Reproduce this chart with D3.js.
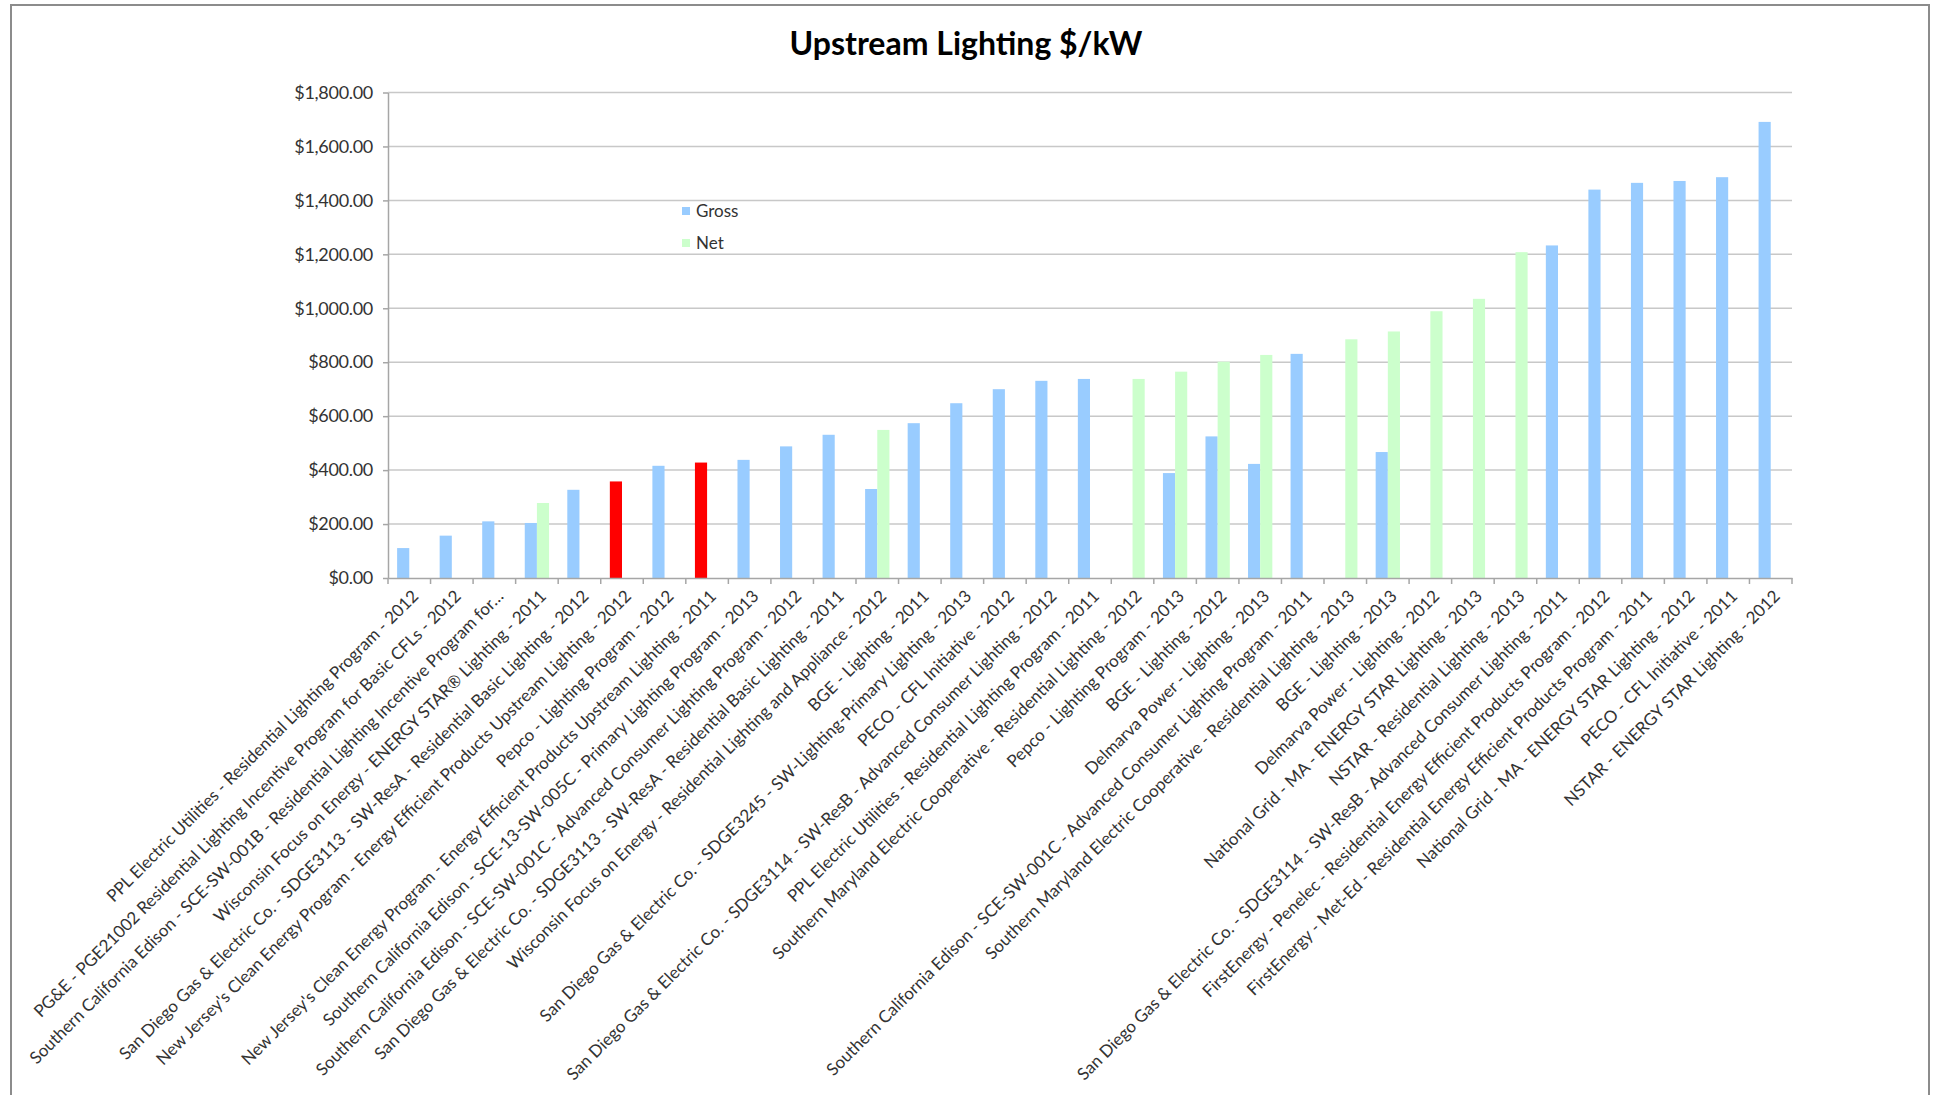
<!DOCTYPE html>
<html>
<head>
<meta charset="utf-8">
<script src="https://cdn.jsdelivr.net/npm/d3@7"></script>
<style>
  html, body { margin: 0; padding: 0; background: #fff; }
  svg { display: block; font-family: Lato, "Open Sans", "Liberation Sans", sans-serif; }
</style>
</head>
<body>
<svg id="chart" width="1935" height="1095"></svg>
<script>
const categories = [
  "PPL Electric Utilities - Residential Lighting Program - 2012",
  "PG&E - PGE21002 Residential Lighting Incentive Program for Basic CFLs - 2012",
  "Southern California Edison - SCE-SW-001B - Residential Lighting Incentive Program for…",
  "Wisconsin Focus on Energy - ENERGY STAR® Lighting - 2011",
  "San Diego Gas & Electric Co. - SDGE3113 - SW-ResA - Residential Basic Lighting - 2012",
  "New Jersey's Clean Energy Program - Energy Efficient Products Upstream Lighting - 2012",
  "Pepco - Lighting Program - 2012",
  "New Jersey's Clean Energy Program - Energy Efficient Products Upstream Lighting - 2011",
  "Southern California Edison - SCE-13-SW-005C - Primary Lighting Program - 2013",
  "Southern California Edison - SCE-SW-001C - Advanced Consumer Lighting Program - 2012",
  "San Diego Gas & Electric Co. - SDGE3113 - SW-ResA - Residential Basic Lighting - 2011",
  "Wisconsin Focus on Energy - Residential Lighting and Appliance - 2012",
  "BGE - Lighting - 2011",
  "San Diego Gas & Electric Co. - SDGE3245 - SW-Lighting-Primary Lighting - 2013",
  "PECO - CFL Initiative - 2012",
  "San Diego Gas & Electric Co. - SDGE3114 - SW-ResB - Advanced Consumer Lighting - 2012",
  "PPL Electric Utilities - Residential Lighting Program - 2011",
  "Southern Maryland Electric Cooperative - Residential Lighting - 2012",
  "Pepco - Lighting Program - 2013",
  "BGE - Lighting - 2012",
  "Delmarva Power - Lighting - 2013",
  "Southern California Edison - SCE-SW-001C - Advanced Consumer Lighting Program - 2011",
  "Southern Maryland Electric Cooperative - Residential Lighting - 2013",
  "BGE - Lighting - 2013",
  "Delmarva Power - Lighting - 2012",
  "National Grid - MA - ENERGY STAR Lighting - 2013",
  "NSTAR - Residential Lighting - 2013",
  "San Diego Gas & Electric Co. - SDGE3114 - SW-ResB - Advanced Consumer Lighting - 2011",
  "FirstEnergy - Penelec - Residential Energy Efficient Products Program - 2012",
  "FirstEnergy - Met-Ed - Residential Energy Efficient Products Program - 2011",
  "National Grid - MA - ENERGY STAR Lighting - 2012",
  "PECO - CFL Initiative - 2011",
  "NSTAR - ENERGY STAR Lighting - 2012"
];
const grossValues = [111, 157, 210, 204, 327, 358, 416, 428, 438, 488, 531, 330, 574, 648, 700, 731, 738,
  null, 389, 525, 423, 831, null, 467, null, null, null, 1233, 1440, 1465, 1472, 1486, 1691];
const netValues = [null, null, null, 278, null, null, null, null, null, null, null, 549, null, null, null, null, null,
  738, 765, 802, 827, null, 885, 914, 989, 1035, 1208, null, null, null, null, null, null];
const highlighted = [
  "New Jersey's Clean Energy Program - Energy Efficient Products Upstream Lighting - 2012",
  "New Jersey's Clean Energy Program - Energy Efficient Products Upstream Lighting - 2011"
];
const seriesNames = ["Gross", "Net"];
const seriesColors = ["#99ccff", "#ccffcc"];
const highlightColor = "#ff0000";
const yTicks = [0, 200, 400, 600, 800, 1000, 1200, 1400, 1600, 1800];
const title = "Upstream Lighting $/kW";

const svg = d3.select("#chart");
const plot = { left: 388, right: 1792, top: 92.5, bottom: 578 };

// chart border
svg.append("rect").attr("x", 11).attr("y", 5).attr("width", 1918).attr("height", 1100)
  .attr("fill", "#fff").attr("stroke", "#8c8c8c").attr("stroke-width", 2);

const x0 = d3.scaleBand().domain(categories).range([plot.left, plot.right])
  .paddingInner(1.5 / 3.5).paddingOuter(0.75 / 3.5);
const x1 = d3.scaleBand().domain(seriesNames).range([0, x0.bandwidth()]);
const y = d3.scaleLinear().domain([0, 1800]).range([plot.bottom, plot.top]);

// gridlines
svg.append("g").selectAll("line").data(yTicks.filter(d => d > 0)).join("line")
  .attr("x1", plot.left).attr("x2", plot.right)
  .attr("y1", d => y(d)).attr("y2", d => y(d))
  .attr("stroke", "#c8c8c8").attr("stroke-width", 1.5);

// bars
const rows = categories.map((c, i) => ({ cat: c, vals: [grossValues[i], netValues[i]] }));
const groups = svg.append("g").selectAll("g").data(rows).join("g")
  .attr("transform", d => `translate(${x0(d.cat)},0)`);
groups.selectAll("rect")
  .data(d => d.vals.map((v, k) => ({ cat: d.cat, s: seriesNames[k], k, v })).filter(e => e.v != null))
  .join("rect")
  .attr("x", e => x1(e.s))
  .attr("width", x1.bandwidth())
  .attr("y", e => y(e.v))
  .attr("height", e => y(0) - y(e.v))
  .attr("fill", e => (e.k === 0 && highlighted.includes(e.cat)) ? highlightColor : seriesColors[e.k]);

// y axis
const yAxis = svg.append("g").attr("transform", `translate(${plot.left},0)`)
  .call(d3.axisLeft(y).tickValues(yTicks).tickSize(5).tickSizeOuter(0)
    .tickFormat(d => "$" + d3.format(",.2f")(d)));
yAxis.select(".domain").attr("stroke", "#a6a6a6").attr("stroke-width", 1.5);
yAxis.selectAll(".tick line").attr("stroke", "#a6a6a6").attr("stroke-width", 1.5);
yAxis.selectAll(".tick text").attr("x", -15).attr("fill", "#333")
  .style("font-size", "18px").style("font-family", "Lato, sans-serif")
  .style("letter-spacing", "-0.3px");

// x axis
const xAxis = svg.append("g").attr("transform", `translate(0,${plot.bottom})`)
  .call(d3.axisBottom(x0).tickSize(0).tickSizeOuter(0));
xAxis.select(".domain").attr("stroke", "#a6a6a6").attr("stroke-width", 1.5);
// category boundary ticks
const step = x0.step();
const bounds = d3.range(categories.length + 1).map(i => plot.left + i * step);
svg.append("g").selectAll("line").data(bounds).join("line")
  .attr("x1", d => d).attr("x2", d => d)
  .attr("y1", plot.bottom).attr("y2", plot.bottom + 6)
  .attr("stroke", "#a6a6a6").attr("stroke-width", 1.5);
xAxis.selectAll(".tick text")
  .attr("fill", "#333")
  .style("font-size", "17px").style("font-family", "Lato, sans-serif")
  .attr("text-anchor", "end")
  .attr("dy", "0.35em")
  .attr("transform", "translate(6,15) rotate(-45)")
  .attr("y", 0).attr("x", 0);

// title
svg.append("text").attr("x", 966).attr("y", 55).attr("text-anchor", "middle")
  .style("font-family", "Lato, sans-serif").style("font-weight", "bold").style("font-size", "32px")
  .attr("fill", "#000").text(title);

// legend
const legend = svg.append("g").attr("transform", "translate(682,211)");
seriesNames.forEach((s, i) => {
  const g = legend.append("g").attr("transform", `translate(0,${i * 32})`);
  g.append("rect").attr("x", 0).attr("y", -4).attr("width", 8).attr("height", 8).attr("fill", seriesColors[i]);
  g.append("text").attr("x", 14).attr("y", 0).attr("dy", "0.35em")
    .style("font-family", "Lato, sans-serif").style("font-size", "17px").attr("fill", "#333").text(s);
});
</script>
</body>
</html>
